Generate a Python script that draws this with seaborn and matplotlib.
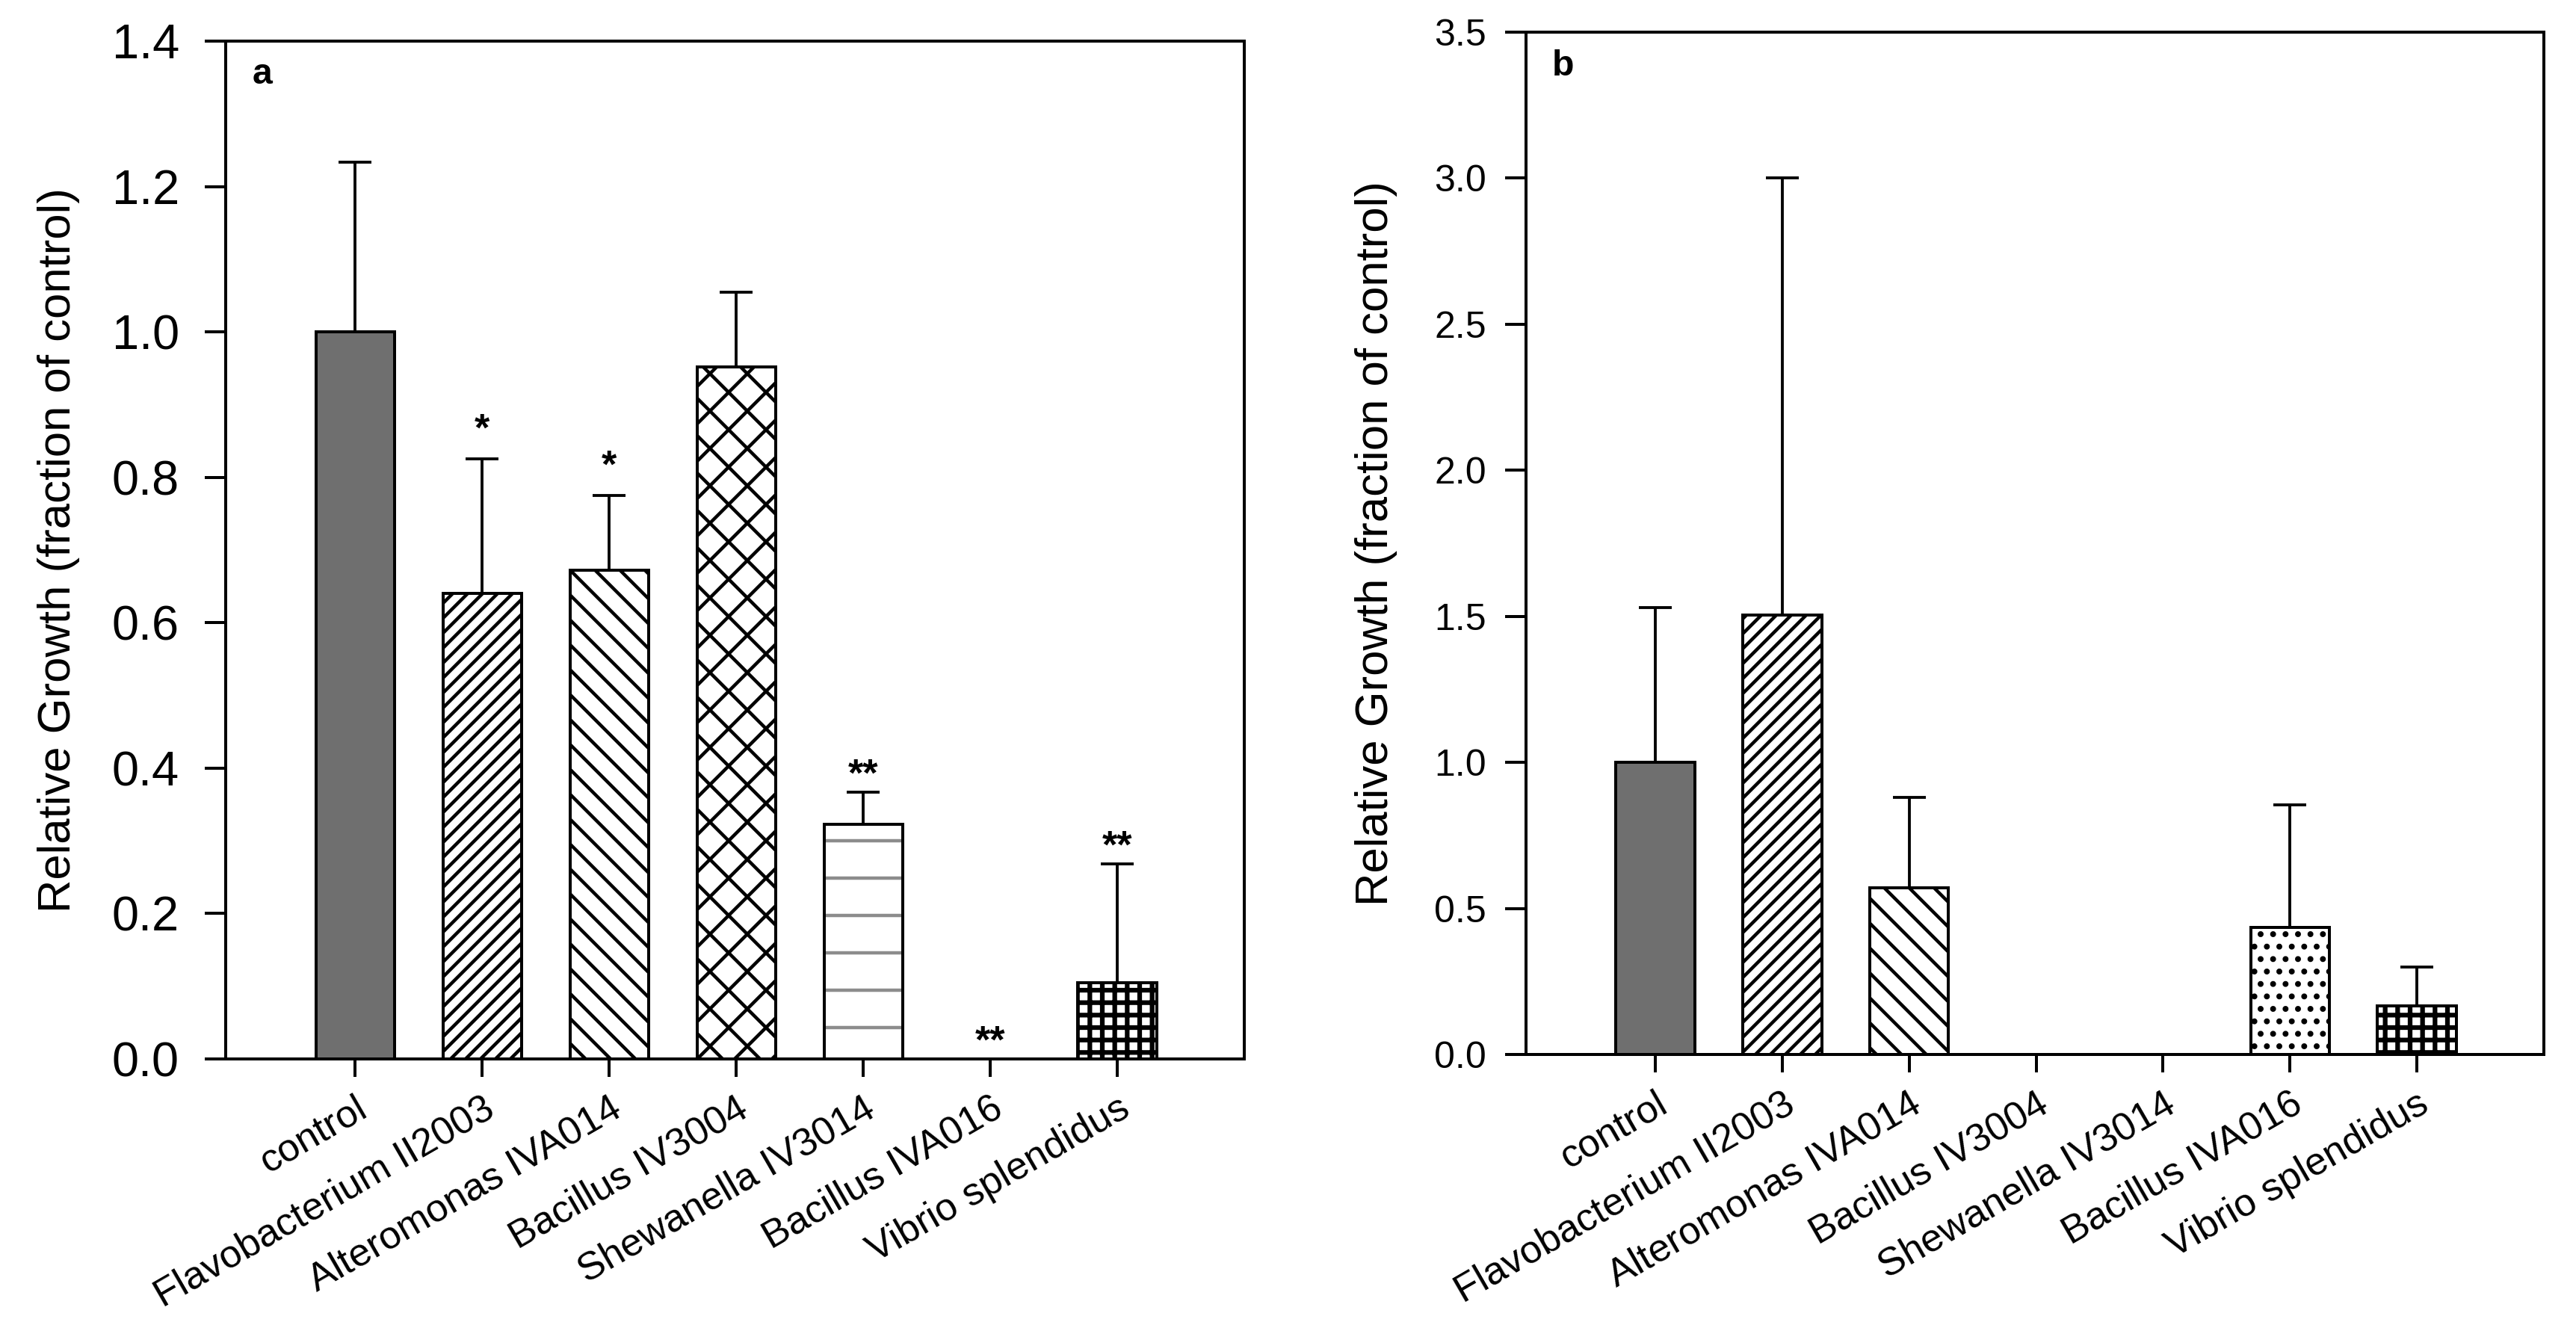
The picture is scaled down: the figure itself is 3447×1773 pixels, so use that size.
import numpy as np
import pandas as pd
import seaborn as sns
import matplotlib.pyplot as plt
from matplotlib.patches import Rectangle
from matplotlib.ticker import FormatStrFormatter

# strains on the x axis (same for both panels)
strains = ["control", "Flavobacterium II2003", "Alteromonas IVA014", "Bacillus IV3004",
           "Shewanella IV3014", "Bacillus IVA016", "Vibrio splendidus"]

# panel a
growth_a = [1.0, 0.64, 0.672, 0.952, 0.323, 0.0, 0.105]
sd_a = [0.233, 0.185, 0.103, 0.103, 0.044, 0.0, 0.163]
stars_a = ["", "*", "*", "", "**", "**", "**"]

# panel b
growth_b = [1.0, 1.505, 0.57, 0.0, 0.0, 0.435, 0.165]
sd_b = [0.53, 1.495, 0.31, 0.0, 0.0, 0.42, 0.135]
stars_b = ["", "", "", "", "", "", ""]

hatches = ["", "/////", "\\\\\\", "xx", "-", "...", "+++"]

sns.set_style("ticks", {"axes.edgecolor": "black", "xtick.color": "black",
                        "ytick.color": "black", "text.color": "black",
                        "axes.labelcolor": "black"})
plt.rcParams["font.family"] = ["Liberation Sans", "DejaVu Sans"]
plt.rcParams["hatch.linewidth"] = 1.08

fig = plt.figure(figsize=(11.4933, 5.91), dpi=300)
ax_a = fig.add_axes([0.0876, 0.2008, 0.3953, 0.7682])
ax_b = fig.add_axes([0.5922, 0.2042, 0.3950, 0.7715])

lw = 0.96
star_off = {"*": 9.2, "**": 5.3}


def draw(ax, vals, sd, stars, ymax, step, letter, ysize, ypad, ylab_x):
    df = pd.DataFrame({"strain": strains, "growth": vals})
    sns.barplot(data=df, x="strain", y="growth", ax=ax, width=0.62, color="white",
                saturation=1, edgecolor="black", linewidth=lw, errorbar=None, zorder=2)
    bars = list(ax.patches)
    for p, h in zip(bars, hatches):
        p.set_hatch(h)
    bars[0].set_facecolor("#6f6f6f")
    # grey horizontal lines for Shewanella, keep a black outline on top
    sh = bars[4]
    sh.set_edgecolor("#8c8c8c")
    ax.add_patch(Rectangle(sh.get_xy(), sh.get_width(), sh.get_height(), fill=False,
                           edgecolor="black", linewidth=lw, zorder=2.5))
    if hasattr(bars[6], "set_hatch_linewidth"):
        bars[6].set_hatch_linewidth(1.5)

    x = np.arange(len(strains))
    vals = np.asarray(vals)
    sd = np.asarray(sd)
    m = sd > 0
    ax.errorbar(x[m], vals[m], yerr=[np.zeros(m.sum()), sd[m]], fmt="none",
                ecolor="black", elinewidth=0.92, capsize=5.2, capthick=0.92, zorder=3)
    for xi, v, s, st in zip(x, vals, sd, stars):
        if st:
            ax.annotate(st, (xi, v + s), xytext=(0, star_off[st]), textcoords="offset points",
                        ha="center", va="center", fontsize=12.5, fontweight="bold")

    ax.set_xlim(-1.02, 7.0)
    ax.set_ylim(0, ymax)
    ax.set_yticks(np.arange(0, ymax + 0.001, step))
    ax.yaxis.set_major_formatter(FormatStrFormatter("%.1f"))
    ax.tick_params(axis="y", length=6.7, width=lw, labelsize=ysize, pad=ypad)
    ax.tick_params(axis="x", length=5.8, width=lw, labelsize=12.5, pad=4.2)
    plt.setp(ax.get_xticklabels(), rotation=30, ha="right", rotation_mode="anchor")
    for s in ax.spines.values():
        s.set_linewidth(lw)
    ax.set_xlabel("")
    ax.set_ylabel("Relative Growth (fraction of control)", fontsize=14.8)
    ax.yaxis.set_label_coords(ylab_x, 0.5)
    ax.text(0.026, 0.967, letter, transform=ax.transAxes, fontsize=11.6,
            fontweight="bold", va="center")


draw(ax_a, growth_a, sd_a, stars_a, 1.4, 0.2, "a", 15.6, 8.2, -0.143)
draw(ax_b, growth_b, sd_b, stars_b, 3.5, 0.5, "b", 12.0, 6.0, -0.126)

fig.savefig("out.png", dpi=300)
